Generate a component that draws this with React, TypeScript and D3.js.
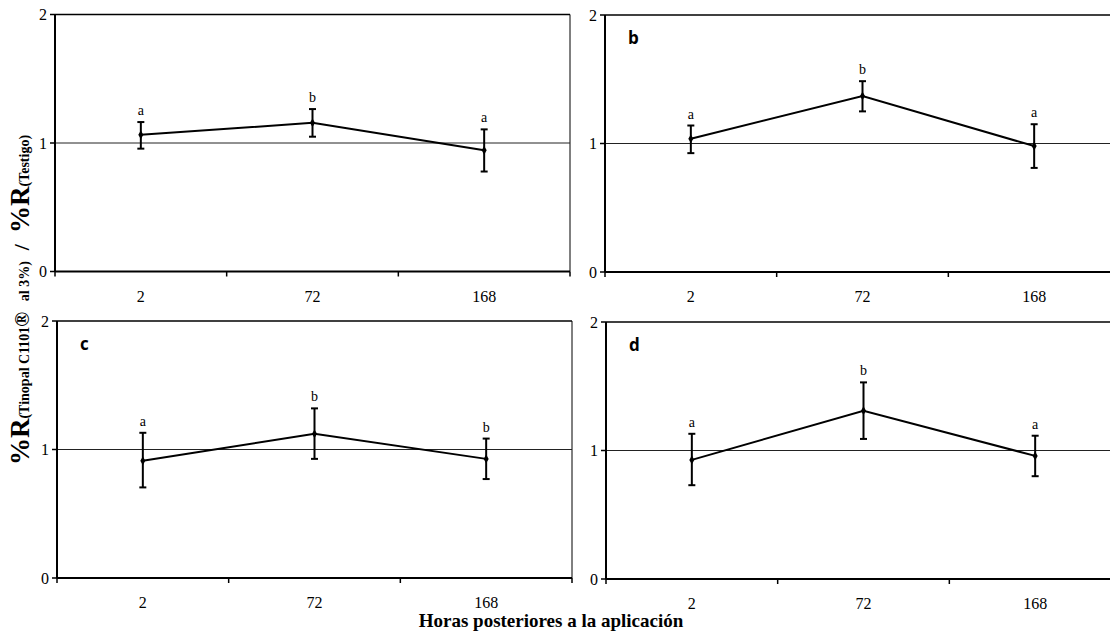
import React, { useEffect } from 'react';
import * as d3 from 'd3';

// horas posteriores a la aplicación
const horas = ['2', '72', '168'];

// %R tinopal / %R testigo, one array per panel (a, b, c, d)
const mediaA = [1.064, 1.157, 0.943];
const errSupA = [1.163, 1.264, 1.106];
const errInfA = [0.956, 1.049, 0.778];
const letrasA = ['a', 'b', 'a'];

const mediaB = [1.037, 1.37, 0.98];
const errSupB = [1.14, 1.485, 1.15];
const errInfB = [0.925, 1.25, 0.81];
const letrasB = ['a', 'b', 'a'];

const mediaC = [0.912, 1.122, 0.927];
const errSupC = [1.13, 1.32, 1.085];
const errInfC = [0.705, 0.927, 0.77];
const letrasC = ['a', 'b', 'b'];

const mediaD = [0.927, 1.31, 0.958];
const errSupD = [1.13, 1.53, 1.115];
const errInfD = [0.73, 1.09, 0.8];
const letrasD = ['a', 'b', 'a'];

const yTicks = [0, 1, 2];
const panelNames = ['', 'b', 'c', 'd'];

const W = 1110;
const H = 637;
const plotW = 515;
const plotH = 257;
const origins = [
  [55, 14.5],
  [605, 15],
  [57, 321],
  [606, 322],
];

const serif = { fontFamily: "'Liberation Serif', 'Times New Roman', Times, serif" };
const sans = { fontFamily: "'Open Sans', 'Liberation Sans', Arial, sans-serif" };

function Panel(props: any) {
  const { ox, oy, media, sup, inf, letras, label } = props;
  const x = d3.scaleBand().domain(horas).range([0, plotW]);
  const y = d3.scaleLinear().domain([0, 2]).range([plotH, 0]);
  const pts = horas.map((h, i) => ({ h, v: media[i], hi: sup[i], lo: inf[i], l: letras[i] }));
  const cx = (h: string) => (x(h) as number) + x.bandwidth() / 2;
  const line = d3
    .line<any>()
    .x((d) => cx(d.h))
    .y((d) => y(d.v));
  const diamond = d3.symbol().type(d3.symbolDiamond).size(22)();

  return (
    <g transform={`translate(${ox},${oy})`}>
      {/* frame */}
      <line x1={0} x2={plotW} y1={0} y2={0} stroke="#000" strokeWidth={1.5} />
      <line x1={plotW} x2={plotW} y1={0} y2={plotH} stroke="#000" strokeWidth={1} />
      <line x1={0} x2={plotW} y1={y(1)} y2={y(1)} stroke="#222" strokeWidth={1} />
      <line x1={0} x2={plotW} y1={plotH} y2={plotH} stroke="#000" strokeWidth={2} />
      <line x1={0} x2={0} y1={0} y2={plotH} stroke="#000" strokeWidth={2} />
      {yTicks.map((t) => (
        <g key={t}>
          <line x1={-5} x2={0} y1={y(t)} y2={y(t)} stroke="#000" strokeWidth={1.5} />
          <text x={-8} y={y(t)} dy="0.35em" textAnchor="end" style={serif} fontSize={16}>
            {t}
          </text>
        </g>
      ))}
      {[0, 1, 2, 3].map((i) => (
        <line
          key={i}
          x1={i * x.bandwidth()}
          x2={i * x.bandwidth()}
          y1={plotH}
          y2={plotH + 5}
          stroke="#000"
          strokeWidth={1.5}
        />
      ))}
      {horas.map((h) => (
        <text key={h} x={cx(h)} y={plotH + 30} textAnchor="middle" style={serif} fontSize={16}>
          {h}
        </text>
      ))}
      {label && (
        <text x={23} y={29} style={sans} fontWeight="bold" fontSize={17}>
          {label}
        </text>
      )}
      <path d={line(pts) as string} fill="none" stroke="#000" strokeWidth={2} />
      {pts.map((d) => (
        <g key={d.h}>
          <line x1={cx(d.h)} x2={cx(d.h)} y1={y(d.hi)} y2={y(d.lo)} stroke="#000" strokeWidth={2} />
          <line x1={cx(d.h) - 3.5} x2={cx(d.h) + 3.5} y1={y(d.hi)} y2={y(d.hi)} stroke="#000" strokeWidth={2} />
          <line x1={cx(d.h) - 3.5} x2={cx(d.h) + 3.5} y1={y(d.lo)} y2={y(d.lo)} stroke="#000" strokeWidth={2} />
          <path d={diamond as string} transform={`translate(${cx(d.h)},${y(d.v)})`} fill="#000" />
          <text x={cx(d.h)} y={y(d.hi) - 7} textAnchor="middle" style={serif} fontSize={14}>
            {d.l}
          </text>
        </g>
      ))}
    </g>
  );
}

export default function App() {
  useEffect(() => {
    document.body.style.margin = '0';
  }, []);

  const series = [
    [mediaA, errSupA, errInfA, letrasA],
    [mediaB, errSupB, errInfB, letrasB],
    [mediaC, errSupC, errInfC, letrasC],
    [mediaD, errSupD, errInfD, letrasD],
  ];

  return (
    <svg width={W} height={H} style={{ display: 'block', background: '#fff' }}>
      {series.map((s, i) => (
        <Panel
          key={i}
          ox={origins[i][0]}
          oy={origins[i][1]}
          media={s[0]}
          sup={s[1]}
          inf={s[2]}
          letras={s[3]}
          label={panelNames[i]}
        />
      ))}
      <text x={551} y={627} textAnchor="middle" style={serif} fontWeight="bold" fontSize={19}>
        Horas posteriores a la aplicación
      </text>
      <text transform="translate(29,300) rotate(-90)" textAnchor="middle" style={serif} fontWeight="bold">
        <tspan fontSize={27}>%R</tspan>
        <tspan fontSize={14}>(Tinopal C1101</tspan>
        <tspan fontSize={20}>®</tspan>
        <tspan fontSize={14}>{'\u00a0\u00a0\u00a0al 3%)'}</tspan>
        <tspan fontSize={22}>{'\u00a0\u00a0/\u00a0\u00a0'}</tspan>
        <tspan fontSize={27}>%R</tspan>
        <tspan fontSize={14}>(Testigo)</tspan>
      </text>
    </svg>
  );
}
